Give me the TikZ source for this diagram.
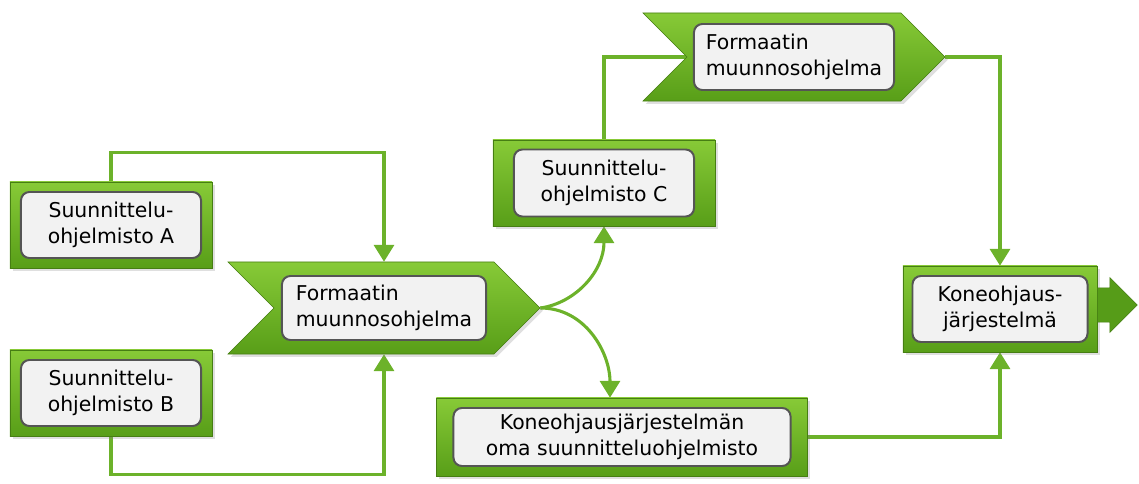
\documentclass[tikz,border=0pt]{standalone}
\usepackage{fontspec}
\setmainfont{DejaVu Sans}
\usetikzlibrary{arrows.meta,positioning,calc,shapes.symbols,shapes.arrows,shadows,backgrounds}
\definecolor{gLight}{RGB}{135,202,55}
\definecolor{gDark}{RGB}{88,158,24}
\definecolor{gLine}{RGB}{108,178,42}
\definecolor{gArrow}{RGB}{86,156,24}
\definecolor{boxGray}{RGB}{242,242,242}
\definecolor{boxEdge}{RGB}{85,85,85}

\begin{document}
\begin{tikzpicture}[
        x=0.025cm, y=-0.025cm,
        gbox/.style={draw=gDark!80!black, top color=gLight, bottom color=gDark, drop shadow={opacity=0.25, shadow xshift=2pt, shadow yshift=-2pt}},
        chev/.style={gbox, signal, signal from=west, signal to=east, signal pointer angle=90},
        tbox/.style={draw=boxEdge, fill=boxGray, rounded corners=6pt, line width=1.4pt, align=center, inner sep=2pt, font=\fontsize{14.5}{18.5}\selectfont},
        conn/.style={draw=gLine, line width=2.2pt, -{Triangle[width=0.5cm, length=0.42cm]}},
        link/.style={draw=gLine, line width=2.2pt},
        outarrow/.style={single arrow, draw=gDark!80!black, fill=gArrow, inner xsep=0pt, inner ysep=0.42cm, minimum height=1cm, single arrow head extend=0.26cm, single arrow tip angle=90}
    ]
        \useasboundingbox (0,0) rectangle (1139,484);

        \node[gbox, minimum width=5.05cm, minimum height=2.15cm] (a) at (111,225) {};
        \node[tbox, minimum width=4.5cm, minimum height=1.65cm] (aT) at (a) {Suunnittelu-\\ohjelmisto A};
        \node[gbox, minimum width=5.05cm, minimum height=2.15cm] (b) at (111,393) {};
        \node[tbox, minimum width=4.5cm, minimum height=1.65cm] (bT) at (b) {Suunnittelu-\\ohjelmisto B};

        \node[chev, minimum width=7.8cm, minimum height=2.3cm] (fm1) at (384,308) {};
        \node[tbox, minimum width=5.1cm, minimum height=1.6cm, align=left] (fm1T) at (fm1) {Formaatin\\muunnosohjelma};

        \node[gbox, minimum width=5.55cm, minimum height=2.15cm] (c) at (604,183) {};
        \node[tbox, minimum width=4.5cm, minimum height=1.675cm] (cT) at (c) {Suunnittelu-\\ohjelmisto C};

        \node[chev, minimum width=7.55cm, minimum height=2.2cm] (fm2) at (794,57) {};
        \node[tbox, minimum width=5.0cm, minimum height=1.65cm, align=left] (fm2T) at (fm2) {Formaatin\\muunnosohjelma};

        \node[gbox, minimum width=9.275cm, minimum height=1.95cm] (ko) at (622,437) {};
        \node[tbox, minimum width=8.425cm, minimum height=1.45cm] (koT) at (ko) {Koneohjausjärjestelmän\\oma suunnitteluohjelmisto};

        \node[gbox, minimum width=4.85cm, minimum height=2.15cm] (k) at (1000,309) {};
        \node[tbox, minimum width=4.375cm, minimum height=1.65cm] (kT) at (k) {Koneohjaus-\\järjestelmä};

        \node[outarrow, anchor=west] (kOut) at (1097,305) {};

        \begin{scope}[on background layer]
        \draw[conn] (a.north) -- ++(0,-29) -| (fm1.north);
        \draw[conn] (b.south) -- ++(0,38) -| (fm1.south);
        \draw[conn] (fm1.east) .. controls +(35,-5) and +(0,45) .. (c.south);
        \draw[conn] (fm1.east) .. controls +(45,0) and +(0,-45) .. ([xshift=-0.3cm]ko.north);
        \draw[link] (c.north) |- (fm2.center);
        \draw[conn] (fm2.east) -| (k.north);
        \draw[conn] (ko.east) -| (k.south);
        \end{scope}
    \end{tikzpicture}
\end{document}
